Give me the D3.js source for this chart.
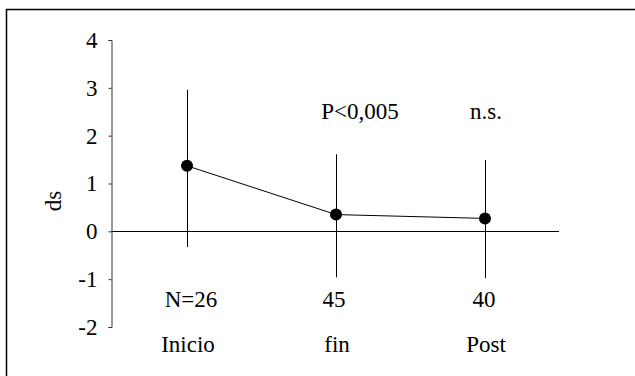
<!DOCTYPE html>
<html>
<head>
<meta charset="utf-8">
<script src="https://cdn.jsdelivr.net/npm/d3@7"></script>
<style>
  html, body { margin: 0; padding: 0; background: #fff; }
  svg { display: block; }
</style>
</head>
<body>
<div id="chart"></div>
<script>
const categories = ["Inicio", "fin", "Post"];
const nLabels = ["N=26", "45", "40"];
const means = [1.37, 0.35, 0.27];
const upper = [2.96, 1.61, 1.49];
const lower = [-0.33, -0.96, -0.98];
const pLabels = ["", "P<0,005", "n.s."];
const yTicks = [-2, -1, 0, 1, 2, 3, 4];

const width = 635;
const height = 376;
const fontSize = "23px";
const fontFamily = "'Liberation Serif', 'Times New Roman', 'DejaVu Serif', serif";

const svg = d3.select("#chart")
    .append("svg")
    .attr("width", width)
    .attr("height", height)
    .style("font-family", fontFamily);

// frame: only top and left edges are drawn
svg.append("line")
    .attr("x1", 6).attr("y1", 9.5).attr("x2", width).attr("y2", 9.5)
    .attr("stroke", "#000").attr("stroke-width", 1.5);
svg.append("line")
    .attr("x1", 6.5).attr("y1", 9).attr("x2", 6.5).attr("y2", height)
    .attr("stroke", "#000").attr("stroke-width", 1.5);

const x = d3.scalePoint()
    .domain(categories)
    .range([187, 485]);

const y = d3.scaleLinear()
    .domain([-2, 4])
    .range([327, 40]);

const yAxis = svg.append("g")
    .attr("transform", "translate(111.5,0)")
    .call(d3.axisLeft(y).tickValues(yTicks).tickSize(3).tickPadding(11).tickFormat(d3.format("d")));

yAxis.attr("font-family", null).attr("font-size", null);
yAxis.selectAll("path, line").attr("stroke", "#333");
yAxis.selectAll("text")
    .style("font-family", fontFamily)
    .style("font-size", fontSize)
    .attr("fill", "#000")
    .text(d => d < 0 ? "-" + Math.abs(d) : d);

// zero line
svg.append("line")
    .attr("x1", 111.5).attr("x2", 559)
    .attr("y1", Math.round(y(0)) + 0.5).attr("y2", Math.round(y(0)) + 0.5)
    .attr("stroke", "#000");

svg.append("text")
    .attr("transform", `translate(61,201) rotate(-90)`)
    .attr("text-anchor", "middle")
    .style("font-family", fontFamily)
    .style("font-size", fontSize)
    .text("ds");

// error bars
svg.selectAll(".err")
    .data(categories)
    .enter()
    .append("line")
    .attr("class", "err")
    .attr("x1", d => Math.round(x(d)) + 0.5)
    .attr("x2", d => Math.round(x(d)) + 0.5)
    .attr("y1", (d, i) => y(upper[i]))
    .attr("y2", (d, i) => y(lower[i]))
    .attr("stroke", "#000");

const line = d3.line()
    .x((d, i) => x(categories[i]))
    .y(d => y(d));

svg.append("path")
    .datum(means)
    .attr("fill", "none")
    .attr("stroke", "#000")
    .attr("stroke-width", 1)
    .attr("d", line);

svg.selectAll(".dot")
    .data(means)
    .enter()
    .append("circle")
    .attr("class", "dot")
    .attr("cx", (d, i) => x(categories[i]))
    .attr("cy", d => y(d))
    .attr("r", 6)
    .attr("fill", "#000");

// significance labels
const pOffset = [0, 24, 1];
svg.selectAll(".plab")
    .data(pLabels)
    .enter()
    .append("text")
    .attr("class", "plab")
    .attr("x", (d, i) => x(categories[i]) + pOffset[i])
    .attr("y", 119)
    .attr("text-anchor", "middle")
    .style("font-family", fontFamily)
    .style("font-size", fontSize)
    .text(d => d);

// sample sizes
const nOffset = [4, -2, -1];
svg.selectAll(".nlab")
    .data(nLabels)
    .enter()
    .append("text")
    .attr("class", "nlab")
    .attr("x", (d, i) => x(categories[i]) + nOffset[i])
    .attr("y", 307)
    .attr("text-anchor", "middle")
    .style("font-family", fontFamily)
    .style("font-size", fontSize)
    .text(d => d);

svg.selectAll(".clab")
    .data(categories)
    .enter()
    .append("text")
    .attr("class", "clab")
    .attr("x", d => x(d) + 1)
    .attr("y", 352)
    .attr("text-anchor", "middle")
    .style("font-family", fontFamily)
    .style("font-size", fontSize)
    .text(d => d);
</script>
</body>
</html>
